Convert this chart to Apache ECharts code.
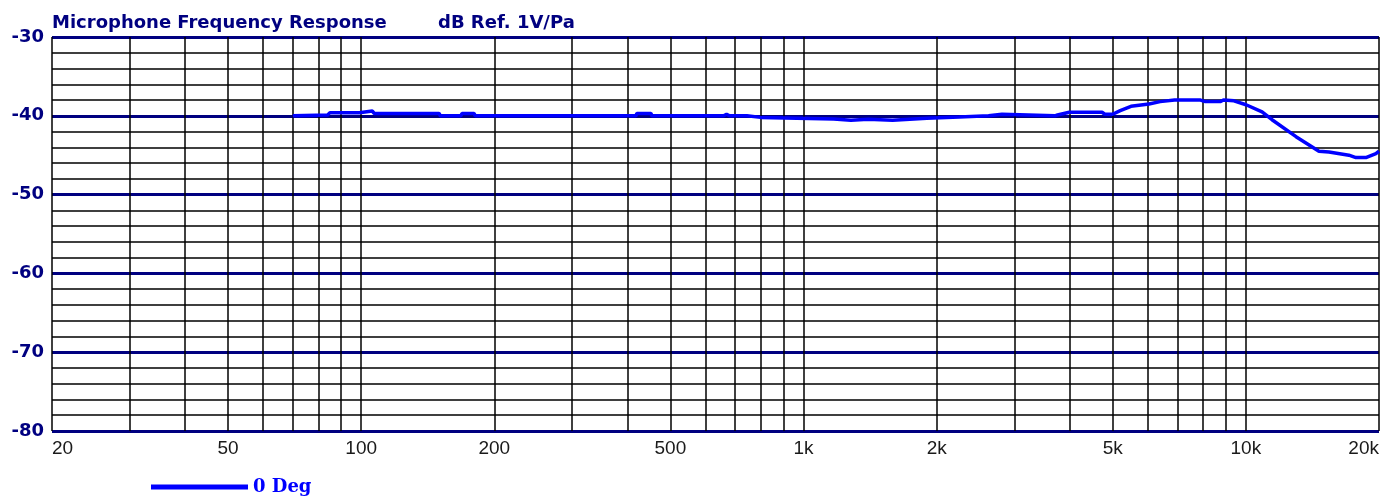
<!DOCTYPE html>
<html>
<head>
<meta charset="utf-8">
<script src="https://cdn.jsdelivr.net/npm/echarts@6/dist/echarts.min.js"></script>
<style>
html,body{margin:0;padding:0;background:#fff;}
#chart{width:1382px;height:499px;}
</style>
</head>
<body>
<div id="chart"></div>
<script>
const titleText = "Microphone Frequency Response";
const unitText = "dB Ref. 1V/Pa";
const seriesName = "0 Deg";
const freqHz = [70,84,85,99,100,106,107,150,151,168,169,180,181,418,420,452,454,503,660,670,680,745,750,800,805,1170,1180,1280,1290,1400,1410,1590,1600,1900,1910,2250,2260,2620,2630,2810,2820,3700,3750,3990,4730,4800,5000,5200,5500,6040,6400,6900,7900,8100,8750,8900,9400,10010,10880,11460,12985,14630,15415,17100,17730,18680,19680,20000];
const levelDb = [-40.0,-39.9,-39.6,-39.6,-39.4,-39.4,-39.7,-39.7,-40.0,-40.0,-39.7,-39.7,-40.0,-40.0,-39.7,-39.7,-40.0,-40.0,-40.0,-39.8,-40.0,-40.0,-40.2,-40.2,-40.4,-40.4,-40.55,-40.55,-40.4,-40.45,-40.55,-40.55,-40.3,-40.3,-40.15,-40.15,-40.0,-40.0,-39.8,-39.8,-40.0,-40.0,-39.9,-39.55,-39.55,-39.8,-39.8,-39.35,-38.8,-38.5,-38.2,-38.0,-38.0,-38.2,-38.2,-38.0,-38.1,-38.6,-39.5,-40.5,-42.65,-44.5,-44.6,-45.0,-45.3,-45.3,-44.8,-44.5];
const freqGridLines = [20,30,40,50,60,70,80,90,100,200,300,400,500,600,700,800,900,1000,2000,3000,4000,5000,6000,7000,8000,9000,10000,20000];
const freqTickLabels = [20,50,100,200,500,1000,2000,5000,10000,20000];
const dbMin = -80, dbMax = -30, dbStep = 10;

const chart = echarts.init(document.getElementById('chart'));
const fmtFreq = v => v >= 1000 ? (v/1000) + 'k' : String(v);

chart.setOption({
  animation: false,
  backgroundColor: '#fff',
  grid: {left: 52, right: 2, top: 37, bottom: 68, containLabel: false},
  xAxis: {
    type: 'log', logBase: 10, min: 20, max: 20000,
    axisLine: {show: false}, axisTick: {show: false},
    splitLine: {show: false}, minorSplitLine: {show: false},
    axisLabel: {
      customValues: freqTickLabels,
      formatter: v => fmtFreq(Math.round(v)),
      color: '#1a1a1a', fontFamily: 'Liberation Sans, Arial, sans-serif', fontSize: 19, margin: 8,
      showMinLabel: true, showMaxLabel: true, hideOverlap: false,
      alignMinLabel: 'left', alignMaxLabel: 'right'
    }
  },
  yAxis: {
    type: 'value', min: dbMin, max: dbMax, interval: dbStep,
    axisLine: {show: false}, axisTick: {show: false},
    axisLabel: {color: '#000080', fontWeight: 'bold', fontSize: 18, fontFamily: 'DejaVu Sans, sans-serif', margin: 8},
    splitLine: {show: true, lineStyle: {color: '#000080', width: 3}},
    minorTick: {show: false, splitNumber: 5},
    minorSplitLine: {show: true, lineStyle: {color: '#000', width: 1.5}}
  },
  legend: {
    left: 146, top: 473, icon: 'rect', itemWidth: 97, itemHeight: 5,
    data: [seriesName],
    textStyle: {color: '#0000ff', fontWeight: 'bold', fontSize: 18, fontFamily: 'DejaVu Serif, serif'}
  },
  graphic: [
    {type: 'text', left: 52, top: 14, style: {text: titleText, fill: '#000080', font: 'bold 18px "DejaVu Sans", sans-serif'}},
    {type: 'text', left: 438, top: 14, style: {text: unitText, fill: '#000080', font: 'bold 18px "DejaVu Sans", sans-serif'}}
  ],
  series: [
    {
      name: 'grid', type: 'line', data: [], silent: true,
      markLine: {
        silent: true, symbol: ['none','none'], animation: false,
        label: {show: false},
        lineStyle: {color: '#000', width: 1.5, type: 'solid'},
        data: freqGridLines.map(f => ({xAxis: f}))
      }
    },
    {
      name: seriesName, type: 'line', showSymbol: false, smooth: false,
      color: '#0000ff',
      lineStyle: {color: '#0000ff', width: 3.5},
      data: freqHz.map((f, i) => [f, levelDb[i]]),
      z: 5
    }
  ]
});
</script>
</body>
</html>
